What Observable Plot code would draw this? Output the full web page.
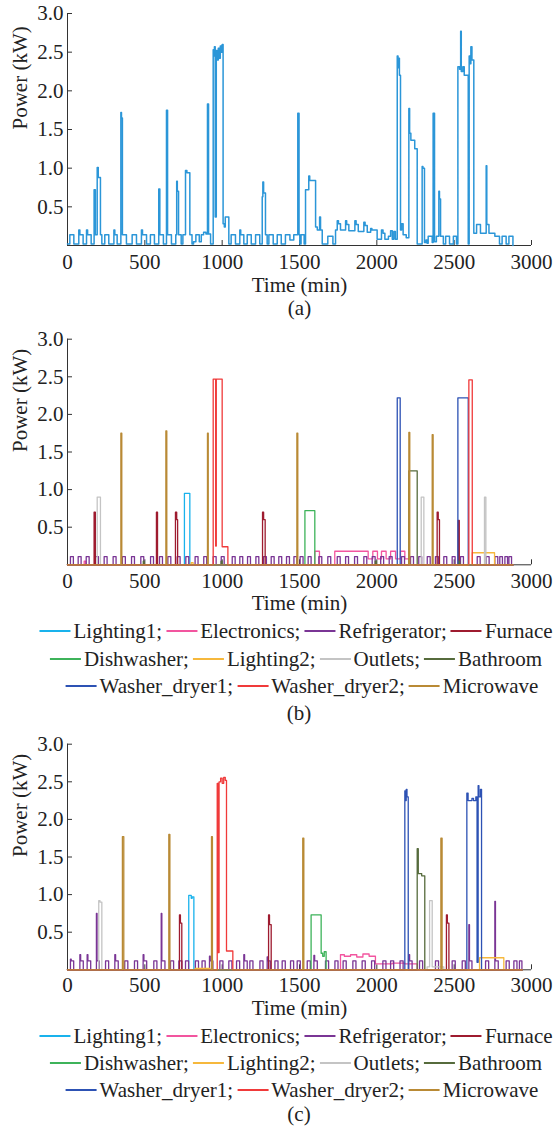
<!DOCTYPE html>
<html>
<head>
<meta charset="utf-8">
<script src="https://cdn.jsdelivr.net/npm/d3@7"></script>
<script src="https://cdn.jsdelivr.net/npm/@observablehq/plot@0.6"></script>
<style>
  html, body { margin: 0; padding: 0; background: #fff; }
  body { width: 553px; height: 1128px; position: relative; overflow: hidden;
         font-family: "Liberation Serif", serif; color: #222; }
  .abs { position: absolute; left: 0; }
  .row { position: absolute; transform: translateX(-50%); white-space: nowrap;
         font-family: "Liberation Serif", serif;
         font-size: 21px; line-height: 20px; height: 20px; }
  .sw { display: inline-block; width: 31px; height: 0; border-top: 2px solid #000;
        vertical-align: middle; position: relative; top: -2px; margin-right: 3px; margin-left: 4px; }
  .sw.first { margin-left: 0; }
  .cap { position: absolute; left: 299px; transform: translateX(-50%); font-family: "Liberation Serif", serif;
         font-size: 21px; line-height: 16px; height: 16px; white-space: nowrap; }
</style>
</head>
<body>
<div id="pa" class="abs" style="top:0px"></div>
<div id="pb" class="abs" style="top:320px"></div>
<div id="pc" class="abs" style="top:728px"></div>
<script>
// ---------- axes ----------
const xTicks = [0, 500, 1000, 1500, 2000, 2500, 3000];
const yTicks = [0.5, 1.0, 1.5, 2.0, 2.5, 3.0];

// ---------- legend ----------
const names = ["Lighting1", "Electronics", "Refrigerator", "Furnace", "Dishwasher", "Lighting2",
               "Outlets", "Bathroom", "Washer_dryer1", "Washer_dryer2", "Microwave"];
const colors = ["#19b2ec", "#f2559f", "#7a3595", "#9e1b2f", "#3db35a", "#f6b83c",
                "#c4c4c4", "#566b3c", "#2d52b4", "#f03a3a", "#b98a35"];
const legendRows = [
  ["Lighting1", "Electronics", "Refrigerator", "Furnace"],
  ["Dishwasher", "Lighting2", "Outlets", "Bathroom"],
  ["Washer_dryer1", "Washer_dryer2", "Microwave"]
];

// ---------- (a) aggregate power, change points [time (min), kW] ----------
const aggSteps = [
  [0,0.02],[15,0.14],[41,0.02],[73,0.2],[80,0.14],[101,0.02],[123,0.2],[130,0.14],[153,0.02],
  [172,0.72],[180,0.14],[192,1.01],[199,0.88],[213,0.14],[222,0.02],[241,0.14],[267,0.02],
  [300,0.2],[306,0.14],[321,0.02],[345,1.72],[349,1.65],[355,0.14],[381,0.02],[418,0.14],[446,0.02],
  [478,0.2],[485,0.14],[511,0.02],[536,0.14],[562,0.02],[590,0.73],[597,0.14],[620,0.02],
  [640,1.75],[647,0.14],[672,0.02],[700,0.14],[706,0.83],[710,0.7],[718,0.14],[735,0.02],
  [746,0.14],[763,0.97],[772,0.94],[791,0.14],[805,0.02],[815,0.05],[830,0.14],[852,0.05],
  [865,0.14],[880,0.17],[895,0.15],[905,1.83],[912,0.15],[925,0.02],
  [942,2.53],[946,2.45],[950,2.57],[955,0.37],[962,2.52],[968,2.4],[975,2.55],[982,2.42],
  [988,2.58],[995,2.5],[1000,2.6],[1006,0.28],[1014,0.24],[1020,0.37],[1043,0.02],
  [1058,0.14],[1086,0.02],[1114,0.2],[1120,0.14],[1140,0.02],[1162,0.14],[1188,0.02],
  [1216,0.14],[1243,0.02],[1259,0.63],[1263,0.82],[1268,0.68],[1280,0.14],[1291,0.02],
  [1302,0.14],[1330,0.02],[1356,0.14],[1382,0.02],[1409,0.14],[1438,0.07],[1463,0.14],
  [1489,1.71],[1497,0.14],[1502,0.02],[1510,0.14],[1530,0.02],[1539,0.72],[1560,0.9],
  [1566,0.84],[1604,0.24],[1615,0.2],[1630,0.37],[1636,0.2],[1647,0.02],[1683,0.12],[1716,0.02],
  [1733,0.2],[1744,0.32],[1752,0.28],[1765,0.2],[1798,0.32],[1805,0.27],[1819,0.19],
  [1858,0.32],[1866,0.27],[1880,0.18],[1916,0.3],[1924,0.26],[1938,0.17],[1960,0.22],
  [1968,0.2],[2002,0.08],[2030,0.2],[2040,0.16],[2052,0.08],[2075,0.12],[2089,0.19],
  [2100,0.08],[2110,0.18],[2120,0.08],[2132,2.45],[2137,2.3],[2141,2.42],[2146,2.2],
  [2153,0.2],[2160,0.28],[2170,0.14],[2190,0.1],[2207,1.77],[2212,1.45],[2220,1.36],
  [2245,1.25],[2261,0.02],[2293,1.02],[2298,1.0],[2308,0.04],[2318,0.07],[2325,0.03],
  [2332,0.12],[2358,0.04],[2364,1.71],[2373,0.05],[2385,0.12],[2401,0.7],[2405,0.6],
  [2412,0.12],[2430,0.02],[2445,0.12],[2470,0.02],[2495,0.12],[2515,0.02],
  [2524,2.31],[2535,2.28],[2542,2.77],[2546,2.25],[2556,2.31],[2565,2.2],[2591,0.02],
  [2597,2.45],[2603,2.35],[2608,2.57],[2615,2.4],[2627,0.16],[2645,0.27],[2670,0.16],
  [2707,1.03],[2711,0.27],[2725,0.16],[2763,0.12],[2793,0.02],[2810,0.12],[2836,0.02],
  [2854,0.12],[2880,0.0]
];

// ---------- (b) appliance segments [start, end, kW] ----------
const bLighting1 = [[756,791,0.95]];
const bElectronics = [[108,118,0.05],[1599,1629,0.18],[1728,1944,0.18],[1944,1974,0.08],[1974,2004,0.18],
  [2004,2030,0.08],[2030,2060,0.18],[2060,2089,0.08],[2089,2121,0.18],[2121,2153,0.08],
  [2153,2181,0.18],[2181,2207,0.08]];
const bRefrigerator = [[19,38,0.11],[69,88,0.11],[121,140,0.11],[181,200,0.11],[237,256,0.11],
  [295,314,0.11],[355,374,0.11],[414,433,0.11],[474,493,0.11],[537,556,0.11],[595,614,0.11],
  [649,668,0.11],[709,728,0.11],[765,784,0.11],[825,844,0.11],[881,900,0.11],[942,961,0.11],
  [994,1013,0.11],[1065,1084,0.11],[1114,1133,0.11],[1164,1183,0.11],[1218,1237,0.11],
  [1267,1286,0.11],[1317,1336,0.11],[1366,1385,0.11],[1416,1435,0.11],[1464,1483,0.11],
  [1504,1523,0.11],[1556,1575,0.11],[1625,1644,0.11],[1683,1702,0.11],[1744,1763,0.11],
  [1798,1817,0.11],[1856,1875,0.11],[1916,1935,0.11],[1970,1989,0.11],[2025,2044,0.11],
  [2080,2099,0.11],[2160,2179,0.11],[2218,2237,0.11],[2271,2290,0.11],[2326,2345,0.11],
  [2379,2398,0.11],[2433,2452,0.11],[2487,2506,0.11],[2541,2560,0.11],[2649,2668,0.11],
  [2707,2726,0.11],[2763,2782,0.11],[2795,2812,0.11],[2828,2845,0.11],[2854,2871,0.11]];
const bFurnace = [[172,180,0.7],[575,582,0.7],[698,706,0.7],[706,712,0.6],[1261,1268,0.7],
  [1268,1278,0.6],[2390,2397,0.7],[2397,2405,0.6],[2526,2533,0.59]];
const bDishwasher = [[1535,1599,0.72]];
const bLighting2 = [[800,812,0.03],[2617,2761,0.16]];
const bOutlets = [[192,213,0.9],[2287,2304,0.9],[2696,2705,0.9]];
const bBathroom = [[490,496,0.05],[993,999,0.05],[1990,1996,0.05],[2207,2261,1.25],[2530,2536,0.05]];
const bWasher1 = [[2132,2151,2.22],[2524,2591,2.22]];
const bWasher2 = [[942,958,2.47],[958,962,0.25],[962,1000,2.47],[1000,1037,0.24],[2595,2617,2.46]];
const bMicrowave = [[345,351,1.75],[636,642,1.78],[905,910,1.75],[1483,1489,1.75],[2207,2213,1.76],[2358,2364,1.73]];

// ---------- (c) appliance segments [start, end, kW] ----------
const cLighting1 = [[784,800,0.99],[800,806,0.95],[806,817,0.97]];
const cElectronics = [[1765,1790,0.2],[1790,1830,0.18],[1830,1870,0.2],[1870,1910,0.17],
  [1910,1950,0.21],[1950,1991,0.18],[1991,2100,0.08],[2100,2180,0.09],[2180,2261,0.08]];
const cRefrigerator = [[19,24,0.14],[24,40,0.12],[80,85,0.2],[85,102,0.12],[127,132,0.2],[132,150,0.12],
  [187,191,0.75],[191,205,0.12],[246,266,0.12],[306,311,0.2],[311,328,0.12],[370,390,0.12],
  [433,453,0.12],[489,494,0.2],[494,512,0.12],[558,578,0.12],[606,610,0.75],[610,630,0.12],
  [666,686,0.12],[720,740,0.12],[763,783,0.12],[827,847,0.12],[870,890,0.12],[918,923,0.18],
  [923,940,0.12],[985,1005,0.12],[1043,1063,0.12],[1093,1113,0.12],[1140,1145,0.2],[1145,1162,0.12],
  [1179,1199,0.12],[1244,1264,0.12],[1291,1296,0.17],[1296,1311,0.12],[1341,1361,0.12],
  [1388,1408,0.12],[1442,1462,0.12],[1485,1505,0.12],[1550,1570,0.12],[1593,1598,0.19],
  [1598,1615,0.12],[1668,1688,0.12],[1729,1749,0.12],[1782,1802,0.12],[1845,1865,0.12],
  [1905,1925,0.12],[1966,1986,0.12],[2039,2059,0.12],[2089,2109,0.12],[2150,2170,0.12],
  [2207,2212,0.2],[2212,2228,0.12],[2276,2296,0.12],[2379,2399,0.12],[2487,2507,0.12],
  [2552,2572,0.12],[2595,2599,0.6],[2599,2615,0.12],[2703,2723,0.12],[2763,2767,0.91],
  [2767,2785,0.12],[2836,2856,0.12],[2886,2906,0.12],[2922,2938,0.12]];
const cFurnace = [[724,730,0.73],[730,739,0.62],[1300,1306,0.73],[1306,1317,0.6],[2450,2456,0.73],[2456,2466,0.62]];
const cDishwasher = [[1575,1640,0.73],[1640,1650,0.22],[1650,1660,0.18],[1660,1672,0.24]];
const cLighting2 = [[827,920,0.02],[2664,2821,0.16]];
const cOutlets = [[202,210,0.92],[210,222,0.9],[2325,2341,0.04],[2341,2358,0.92],[2358,2433,0.04]];
const cBathroom = [[2261,2268,1.61],[2268,2290,1.28],[2290,2310,1.25]];
const cWasher1 = [[2181,2186,2.38],[2186,2190,2.25],[2190,2195,2.4],[2195,2203,2.3],
  [2582,2590,2.35],[2590,2615,2.25],[2615,2625,2.28],[2625,2640,2.25],[2640,2648,2.3],
  [2648,2655,0.1],[2655,2660,2.45],[2660,2670,2.3],[2670,2677,2.4]];
const cWasher2 = [[968,975,2.48],[975,980,0.23],[980,990,2.5],[990,1000,2.55],[1000,1010,2.48],
  [1010,1020,2.56],[1020,1028,2.52],[1028,1069,0.25]];
const cMicrowave = [[355,364,1.77],[655,662,1.8],[931,937,1.77],[1521,1528,1.75],[2414,2422,1.75]];

const bSets = [bLighting1, bElectronics, bRefrigerator, bFurnace, bDishwasher, bLighting2,
               bOutlets, bBathroom, bWasher1, bWasher2, bMicrowave];
const cSets = [cLighting1, cElectronics, cRefrigerator, cFurnace, cDishwasher, cLighting2,
               cOutlets, cBathroom, cWasher1, cWasher2, cMicrowave];

// build a rectangular step path from segments
function build(name, segs, tEnd) {
  const pts = [{t: 0, v: 0, name}];
  let prevEnd = null;
  for (const [a, b, v] of segs) {
    if (prevEnd !== null && Math.abs(prevEnd - a) < 1e-9) {
      pts.push({t: a, v, name});
    } else {
      if (prevEnd !== null) pts.push({t: prevEnd, v: 0, name});
      pts.push({t: a, v: 0, name});
      pts.push({t: a, v, name});
    }
    pts.push({t: b, v, name});
    prevEnd = b;
  }
  if (prevEnd !== null) pts.push({t: prevEnd, v: 0, name});
  pts.push({t: tEnd, v: 0, name});
  return pts;
}

const FONT = "'Liberation Serif', serif";

function panel({height, top, bottom, pad, lineMarks, labelDy, caption, captionDy}) {
  const plotH = height - top - bottom;
  const yTickLen = 5 * 3 / plotH;
  const xTickLen = 5 * 3000 / 464;
  const marks = [
    Plot.ruleY([0], {x1: 0, x2: 3000, stroke: "#333", strokeWidth: 1}),
    Plot.ruleX([0], {y1: 0, y2: 3, stroke: "#333", strokeWidth: 1}),
    Plot.ruleX(xTicks, {x: d => d, y1: 0, y2: yTickLen, stroke: "#333"}),
    Plot.ruleY(yTicks, {y: d => d, x1: 0, x2: xTickLen, stroke: "#333"}),
    Plot.axisX({ticks: xTicks, tickSize: 0, tickPadding: pad, tickFormat: d => String(d),
                label: null, fontSize: 21, fill: "#222", fontFamily: FONT}),
    Plot.axisY({ticks: yTicks, tickSize: 0, tickPadding: 4, tickFormat: d => d.toFixed(1),
                label: null, fontSize: 21, fill: "#222", fontFamily: FONT}),
    ...lineMarks,
    Plot.text(["Time (min)"], {text: d => d, frameAnchor: "bottom", dy: labelDy, fontSize: 21,
                               fill: "#222", lineAnchor: "middle", fontFamily: FONT}),
    Plot.text(["Power (kW)"], {text: d => d, frameAnchor: "left", dx: -47.6, rotate: -90,
                               fontSize: 21, fill: "#222", lineAnchor: "middle", fontFamily: FONT})
  ];
  if (caption) marks.push(Plot.text([caption], {text: d => d, frameAnchor: "bottom", dy: captionDy,
                               fontSize: 21, fill: "#222", lineAnchor: "middle", fontFamily: FONT}));
  return Plot.plot({
    width: 553, height, marginLeft: 67, marginRight: 22, marginTop: top, marginBottom: bottom,
    x: {domain: [0, 3000]}, y: {domain: [0, 3]},
    color: {domain: names, range: colors},
    style: {fontFamily: FONT, fontSize: "21px", color: "#222", background: "transparent", overflow: "visible"},
    marks
  });
}

// (a)
document.getElementById("pa").append(panel({
  height: 320, top: 13, bottom: 75, pad: 9, labelDy: 40, caption: "(a)", captionDy: 63,
  lineMarks: [Plot.line(aggSteps, {x: d => d[0], y: d => d[1], curve: "step-after",
                                   stroke: "#2b96d8", strokeWidth: 1.5})]
}));

// (b)
const bData = names.flatMap((n, i) => build(n, bSets[i], 2880));
document.getElementById("pb").append(panel({
  height: 298, top: 18.7, bottom: 53.7, pad: 8, labelDy: 38.7,
  lineMarks: [Plot.line(bData, {x: "t", y: "v", z: "name", stroke: "name", strokeWidth: 1.3})]
}));

// (c)
const cData = names.flatMap((n, i) => build(n, cSets[i], 2940));
document.getElementById("pc").append(panel({
  height: 295, top: 15.7, bottom: 53.7, pad: 7.5, labelDy: 38.5,
  lineMarks: [Plot.line(cData, {x: "t", y: "v", z: "name", stroke: "name", strokeWidth: 1.3})]
}));

// legends
const rowCenterX = [296, 296, 302];
function legend(centers, capCenter, capText) {
  legendRows.forEach((row, r) => {
    const div = document.createElement("div");
    div.className = "row";
    div.style.top = (centers[r] - 10.5) + "px";
    div.style.left = rowCenterX[r] + "px";
    row.forEach((n, k) => {
      const sw = document.createElement("span");
      sw.className = "sw" + (k === 0 ? " first" : "");
      sw.style.borderTopColor = colors[names.indexOf(n)];
      div.append(sw);
      div.append(document.createTextNode(n + (k < row.length - 1 ? ";" : "")));
    });
    document.body.append(div);
  });
  const cap = document.createElement("div");
  cap.className = "cap";
  cap.style.top = (capCenter - 8.5) + "px";
  cap.textContent = capText;
  document.body.append(cap);
}
legend([631.7, 659.3, 686.7], 713.3, "(b)");
legend([1036, 1063.3, 1090], 1114, "(c)");
</script>
</body>
</html>
